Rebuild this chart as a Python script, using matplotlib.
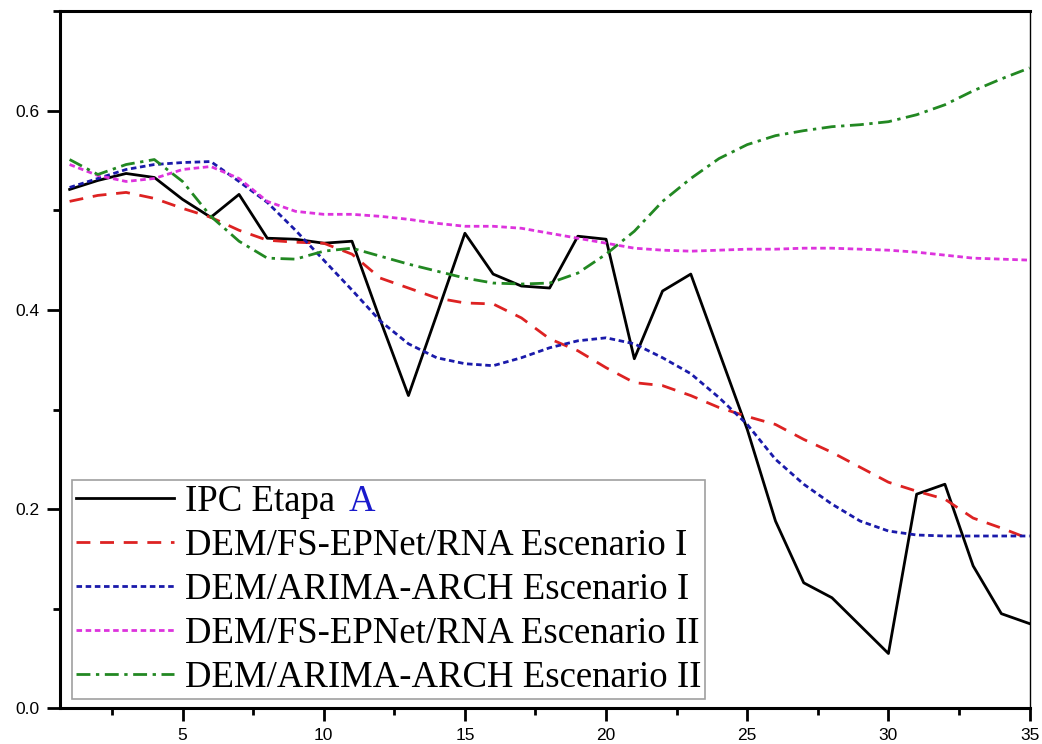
import numpy as np
import matplotlib
matplotlib.use("Agg")
import matplotlib.pyplot as plt
from matplotlib.ticker import MultipleLocator

# ---- data ----
x = np.arange(1, 36)

ipc = [0.521, 0.530, 0.537, 0.533, 0.511, 0.493, 0.516, 0.472, 0.471, 0.467,
       0.469, 0.390, 0.314, 0.395, 0.477, 0.436, 0.424, 0.422, 0.474, 0.471,
       0.351, 0.419, 0.436, 0.358, 0.280, 0.188, 0.126, 0.111, 0.083, 0.055,
       0.215, 0.225, 0.143, 0.095, 0.085]

rna_1 = [0.509, 0.515, 0.518, 0.512, 0.502, 0.493, 0.480, 0.470, 0.468, 0.467,
         0.456, 0.432, 0.422, 0.412, 0.407, 0.406, 0.392, 0.371, 0.359, 0.342,
         0.327, 0.324, 0.314, 0.302, 0.293, 0.285, 0.270, 0.257, 0.242, 0.227,
         0.218, 0.210, 0.191, 0.181, 0.170]

arima_1 = [0.523, 0.532, 0.541, 0.546, 0.548, 0.549, 0.529, 0.508, 0.480, 0.450,
           0.420, 0.389, 0.366, 0.352, 0.346, 0.344, 0.352, 0.362, 0.369, 0.372,
           0.366, 0.352, 0.336, 0.312, 0.285, 0.250, 0.225, 0.205, 0.188, 0.178,
           0.174, 0.173, 0.173, 0.173, 0.173]

rna_2 = [0.546, 0.535, 0.529, 0.532, 0.541, 0.544, 0.532, 0.509, 0.499, 0.496,
         0.496, 0.494, 0.491, 0.487, 0.484, 0.484, 0.482, 0.477, 0.472, 0.467,
         0.462, 0.460, 0.459, 0.460, 0.461, 0.461, 0.462, 0.462, 0.461, 0.460,
         0.458, 0.455, 0.452, 0.451, 0.450]

arima_2 = [0.551, 0.536, 0.546, 0.551, 0.529, 0.494, 0.469, 0.452, 0.451, 0.459,
           0.462, 0.454, 0.446, 0.439, 0.432, 0.427, 0.426, 0.427, 0.437, 0.456,
           0.479, 0.509, 0.532, 0.552, 0.566, 0.575, 0.580, 0.584, 0.586, 0.589,
           0.596, 0.606, 0.620, 0.632, 0.643]

labels = ["IPC Etapa",
          "DEM/FS-EPNet/RNA Escenario I",
          "DEM/ARIMA-ARCH Escenario I",
          "DEM/FS-EPNet/RNA Escenario II",
          "DEM/ARIMA-ARCH Escenario II"]

# ---- figure ----
fig = plt.figure(figsize=(10.42, 7.44), dpi=100)
ax = fig.add_axes([0.0576, 0.048, 0.9305, 0.937])

ax.plot(x, ipc, color="black", lw=2, label=labels[0])
ax.plot(x, rna_1, color="#dd2222", lw=2, dashes=(5, 3.5), label=labels[1])
ax.plot(x, arima_1, color="#1a1aaa", lw=2, dashes=(2, 1.3), label=labels[2])
ax.plot(x, rna_2, color="#dd33dd", lw=2, dashes=(2, 1.3), label=labels[3])
ax.plot(x, arima_2, color="#228822", lw=2, dashes=(5, 2, 1.2, 2), label=labels[4])

ax.set_xlim(0.66, 35)
ax.set_ylim(0, 0.7)

ax.xaxis.set_major_locator(MultipleLocator(5))
ax.xaxis.set_minor_locator(MultipleLocator(2.5))
ax.yaxis.set_major_locator(MultipleLocator(0.2))
ax.yaxis.set_minor_locator(MultipleLocator(0.1))
ax.yaxis.set_major_formatter(plt.FuncFormatter(lambda v, p: "%.1f" % v))

ax.tick_params(which="major", direction="out", length=9.5, width=2,
               labelsize=12.5, pad=5)
ax.tick_params(which="minor", direction="out", length=5, width=2)
for lab in ax.get_xticklabels() + ax.get_yticklabels():
    lab.set_fontfamily("Liberation Sans")

for side in ["left", "bottom", "top"]:
    ax.spines[side].set_linewidth(2.2)
ax.spines["right"].set_linewidth(1)

leg = ax.legend(loc="lower left", bbox_to_anchor=(0.012, 0.013),
                prop={"family": "Liberation Serif", "size": 26.5},
                frameon=True, fancybox=False, edgecolor="#888888",
                handlelength=2.65, handletextpad=0.3, labelspacing=0.26,
                borderpad=0.12, borderaxespad=0)
leg.get_frame().set_linewidth(1.2)

# blue "A" after the first legend entry
ax.annotate("A", xy=(1, 0), xycoords=leg.texts[0], xytext=(10, 0),
            textcoords="offset points", va="bottom", ha="left",
            color="#1a1acc", fontfamily="Liberation Serif", fontsize=26.5,
            zorder=10)

fig.savefig("out.png", dpi=100)
